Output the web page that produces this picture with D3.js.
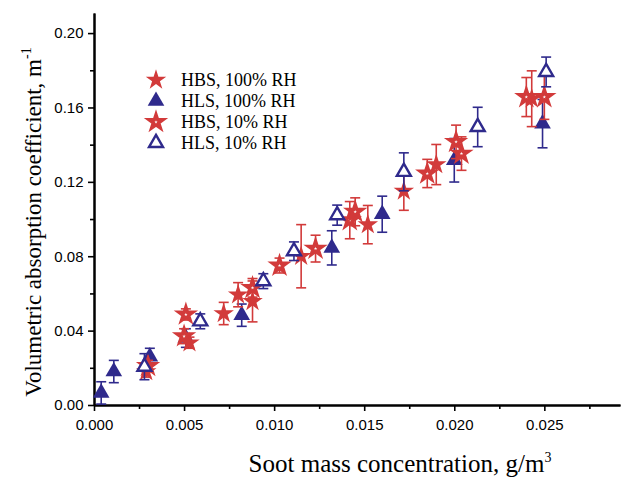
<!DOCTYPE html>
<html>
<head>
<meta charset="utf-8">
<script src="https://cdn.jsdelivr.net/npm/d3@7"></script>
<style>
  body { margin: 0; background: #fff; }
</style>
</head>
<body>
<script>
var width = 622, height = 479;

// HBS, 100% RH (filled stars)
var hbs100X = [0.0029, 0.0053, 0.0072, 0.0080, 0.0088, 0.0115, 0.0152, 0.0172, 0.0190, 0.0243];
var hbs100Y = [0.018, 0.0335, 0.0492, 0.0593, 0.0557, 0.080, 0.097, 0.1151, 0.1293, 0.1647];
var hbs100E = [0.003, 0.003, 0.006, 0.0065, 0.011, 0.017, 0.0103, 0.0104, 0.0108, 0.015];

// HLS, 100% RH (filled triangles)
var hls100X = [0.0004, 0.0011, 0.0031, 0.0051, 0.0082, 0.0132, 0.0160, 0.0200, 0.0249];
var hls100Y = [0.0065, 0.018, 0.026, 0.036, 0.0483, 0.0845, 0.1026, 0.1316, 0.1513];
var hls100E = [0.006, 0.006, 0.0045, 0.005, 0.006, 0.0092, 0.0097, 0.0117, 0.013];

// HBS, 10% RH (open stars)
var hbs10X = [0.0030, 0.0050, 0.0051, 0.0088, 0.0103, 0.0123, 0.0142, 0.0145, 0.0185, 0.0201, 0.0204, 0.0240, 0.0250];
var hbs10Y = [0.021, 0.037, 0.0487, 0.063, 0.075, 0.0841, 0.0994, 0.1039, 0.1245, 0.1415, 0.1352, 0.1656, 0.1656];
var hbs10E = [0.003, 0.004, 0.003, 0.005, 0.004, 0.0072, 0.01, 0.0075, 0.0076, 0.009, 0.009, 0.0105, 0.012];

// HLS, 10% RH (open triangles)
var hls10X = [0.0028, 0.0059, 0.0094, 0.0111, 0.0135, 0.0172, 0.0213, 0.0251];
var hls10Y = [0.0206, 0.045, 0.0666, 0.0827, 0.1021, 0.1254, 0.1495, 0.1791];
var hls10E = [0.007, 0.004, 0.004, 0.005, 0.0054, 0.0102, 0.0106, 0.008];

var xTicks = [0, 0.005, 0.010, 0.015, 0.020, 0.025];
var yTicks = [0, 0.04, 0.08, 0.12, 0.16, 0.20];
var legendLabels = ["HBS, 100% RH", "HLS, 100% RH", "HBS, 10% RH", "HLS, 10% RH"];

var red = "#d23a3a", navy = "#2f2a8c";
var serif = "Liberation Serif, Times New Roman, serif";

var svg = d3.select("body").append("svg").attr("width", width).attr("height", height);

var x = d3.scaleLinear().domain([0, 0.0292]).range([94, 620]);
var y = d3.scaleLinear().domain([0, 0.2108]).range([405, 13]);

// axes
var xAxis = svg.append("g").attr("transform", "translate(0,405)")
  .call(d3.axisBottom(x).tickValues(xTicks).tickFormat(d3.format(".3f")).tickSize(6).tickSizeOuter(0));
var xMinor = svg.append("g").attr("transform", "translate(0,405)")
  .call(d3.axisBottom(x).tickValues(xTicks.map(function(d) { return d + 0.0025; })).tickFormat("").tickSize(4).tickSizeOuter(0));
var yAxis = svg.append("g").attr("transform", "translate(94,0)")
  .call(d3.axisLeft(y).tickValues(yTicks).tickFormat(d3.format(".2f")).tickSize(6).tickSizeOuter(0));
var yMinor = svg.append("g").attr("transform", "translate(94,0)")
  .call(d3.axisLeft(y).tickValues(yTicks.map(function(d) { return d + 0.02; })).tickFormat("").tickSize(4).tickSizeOuter(0));

svg.selectAll(".domain").attr("stroke", "#000").attr("stroke-width", 2);
svg.selectAll(".tick line").attr("stroke", "#000").attr("stroke-width", 1.6);
svg.selectAll(".tick text").attr("font-family", "Liberation Sans, Arial, sans-serif").attr("font-size", 15).attr("fill", "#000");
xAxis.selectAll(".tick text").attr("dy", "1.05em");
yAxis.selectAll(".tick text").attr("dx", "-0.1em");

// axis titles
var xt = svg.append("text")
  .attr("x", 400).attr("y", 472)
  .attr("text-anchor", "middle")
  .attr("font-family", serif)
  .attr("font-size", 25)
  .text("Soot mass concentration, g/m");
xt.append("tspan").attr("dy", -10).attr("font-size", 14).text("3");

var yt = svg.append("text")
  .attr("transform", "translate(41,222) rotate(-90)")
  .attr("text-anchor", "middle")
  .attr("font-family", serif)
  .attr("font-size", 23)
  .text("Volumetric absorption coefficient, m");
yt.append("tspan").attr("dy", -10).attr("font-size", 14).text("-1");

var star = d3.symbol().type(d3.symbolStar);
var tri = d3.symbol().type(d3.symbolTriangle);

function drawSeries(xs, ys, es, color, shape, filled) {
  var g = svg.append("g");
  for (var i = 0; i < xs.length; i++) {
    var cx = x(xs[i]);
    var top = y(ys[i] + es[i]), bot = y(ys[i] - es[i]);
    g.append("line").attr("x1", cx).attr("x2", cx).attr("y1", top).attr("y2", bot)
      .attr("stroke", color).attr("stroke-width", 1.6);
    g.append("line").attr("x1", cx - 5).attr("x2", cx + 5).attr("y1", top).attr("y2", top)
      .attr("stroke", color).attr("stroke-width", 1.6);
    g.append("line").attr("x1", cx - 5).attr("x2", cx + 5).attr("y1", bot).attr("y2", bot)
      .attr("stroke", color).attr("stroke-width", 1.6);
  }
  for (var i = 0; i < xs.length; i++) {
    drawMarker(g, x(xs[i]), y(ys[i]), color, shape, filled);
  }
}

function drawMarker(g, cx, cy, color, shape, filled) {
  var p;
  if (shape == "star") p = filled ? star.size(130)() : star.size(60)();
  else p = filled ? tri.size(120)() : tri.size(85)();
  g.append("path")
    .attr("d", p)
    .attr("transform", "translate(" + cx + "," + cy + ")")
    .attr("fill", filled ? color : "#fff")
    .attr("stroke", color)
    .attr("stroke-width", filled ? 0 : (shape == "star" ? 3.4 : 2.4))
    .attr("stroke-linejoin", "miter");
}

drawSeries(hls100X, hls100Y, hls100E, navy, "tri", true);
drawSeries(hbs100X, hbs100Y, hbs100E, red, "star", true);
drawSeries(hbs10X, hbs10Y, hbs10E, red, "star", false);
drawSeries(hls10X, hls10Y, hls10E, navy, "tri", false);

// legend
var legendColors = [red, navy, red, navy];
var legendShapes = ["star", "tri", "star", "tri"];
var legendFilled = [true, true, false, false];
for (var i = 0; i < legendLabels.length; i++) {
  var ly = 80 + i * 21;
  drawMarker(svg, 156, ly, legendColors[i], legendShapes[i], legendFilled[i]);
  svg.append("text")
    .attr("x", 181).attr("y", ly + 6)
    .attr("font-family", serif)
    .attr("font-size", 18)
    .text(legendLabels[i]);
}
</script>
</body>
</html>
